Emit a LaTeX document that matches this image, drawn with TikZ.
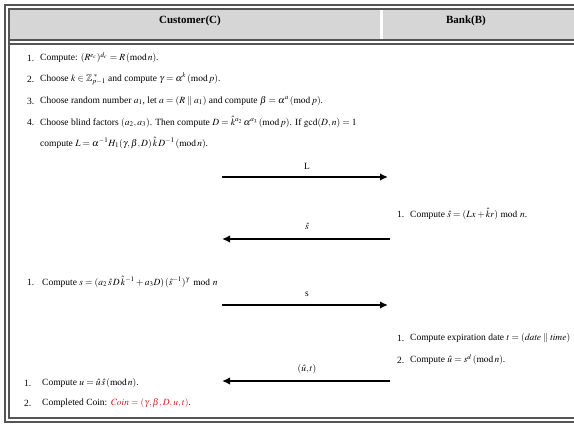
\documentclass[tikz,border=0pt]{standalone}
\usepackage{amssymb}
\usepackage{mathptmx}
\usepackage{fontspec}
\setmainfont{Liberation Serif}
\usetikzlibrary{arrows.meta}
\definecolor{hdr}{RGB}{214,214,214}
\definecolor{brd}{RGB}{85,85,85}
\definecolor{coin}{RGB}{200,30,30}
\tikzset{
  num/.style={anchor=west, inner sep=0pt, font=\fontsize{9.5}{11}\selectfont},
  txt/.style={anchor=west, inner sep=0pt, font=\fontsize{9.5}{11}\selectfont},
  lbl/.style={inner sep=0pt, font=\fontsize{9.5}{11}\selectfont},
  head/.style={inner sep=0pt, font=\fontsize{11}{13}\selectfont\bfseries},
  msg/.style={line width=1.9pt, -{Latex[length=8pt,width=7.5pt]}},
  border/.style={draw=brd, line width=1.1pt}
}
\begin{document}
\begin{tikzpicture}[x=1pt,y=-1pt]
\useasboundingbox (0,0) rectangle (574,425);
% header
\fill[hdr] (9,9) rectangle (574,40);
\fill[white] (380,9) rectangle (383,40);
% borders
\draw[border] (580,5) -- (5,5) -- (5,422) -- (580,422);
\draw[border] (580,9) -- (9,9) -- (9,418) -- (580,418);
\draw[border] (9,40) -- (580,40);
\draw[border] (9,44) -- (580,44);
\node[head] (hc) at (190,21) {Customer(C)};
\node[head] (hb) at (466,21) {Bank(B)};
% customer steps
\node[num] (n1) at (27,58) {1.};
\node[txt] (t1) at (40,58) {Compute: $(R^{e_c})^{d_c} = R\,(\mathrm{mod}\,n)$.};
\node[num] (n2) at (27,79) {2.};
\node[txt] (t2) at (40,79) {Choose $k \in \mathbb{Z}_{p-1}^{\;*}$ and compute $\gamma = \alpha^{k}\,(\mathrm{mod}\,p)$.};
\node[num] (n3) at (27,101) {3.};
\node[txt] (t3) at (40,101) {Choose random number $a_1$, let $a = (R\parallel a_1)$ and compute $\beta = \alpha^{a}\,(\mathrm{mod}\,p)$.};
\node[num] (n4) at (27,122) {4.};
\node[txt] (t4) at (40,122) {Choose blind factors $(a_2,a_3)$. Then compute $D = \hat{k}{}^{a_2}\,\alpha^{a_3}\,(\mathrm{mod}\,p)$. If $\gcd(D,n) = 1$};
\node[txt] (t4b) at (40,143) {compute $L = \alpha^{-1}H_1(\gamma,\beta,D)\,\hat{k}\,D^{-1}\,(\mathrm{mod}\,n)$.};
% message L
\coordinate (a1s) at (222,177);
\coordinate (a1e) at (388,177);
\draw[msg] (a1s) -- (a1e);
\node[lbl] (l1) at (307,166) {L};
% bank step
\node[num] (b1n) at (397,214) {1.};
\node[txt] (b1t) at (410,214) {Compute $\hat{s} = (Lx + \hat{k}r)\bmod n$.};
% message s-hat
\coordinate (a2s) at (390,239);
\coordinate (a2e) at (222,239);
\draw[msg] (a2s) -- (a2e);
\node[lbl] (l2) at (307,226) {$\hat{s}$};
% customer compute s
\node[num] (c5n) at (27,282) {1.};
\node[txt] (c5t) at (42,282) {Compute $s = (a_2\,\hat{s}\,D\,\hat{k}{}^{-1} + a_3D)\,(\hat{s}{}^{-1})^{\gamma}\,\bmod n$};
% message s
\coordinate (a3s) at (222,305);
\coordinate (a3e) at (388,305);
\draw[msg] (a3s) -- (a3e);
\node[lbl] (l3) at (307,294) {s};
% bank steps
\node[num] (b2n) at (397,338) {1.};
\node[txt] (b2t) at (410,338) {Compute expiration date $t = (\mathit{date}\parallel \mathit{time})$};
\node[num] (b3n) at (397,360) {2.};
\node[txt] (b3t) at (410,360) {Compute $\hat{u} = s^{d}\,(\mathrm{mod}\,n)$.};
% message (u,t)
\coordinate (a4s) at (390,381);
\coordinate (a4e) at (222,381);
\draw[msg] (a4s) -- (a4e);
\node[lbl] (l4) at (307,369) {$(\hat{u},t)$};
% final customer
\node[num] (c6n) at (24,383) {1.};
\node[txt] (c6t) at (42,383) {Compute $u = \hat{u}\,\hat{s}\,(\mathrm{mod}\,n)$.};
\node[num] (c7n) at (24,403) {2.};
\node[txt] (c7t) at (42,403) {Completed Coin: \textcolor{coin}{$\mathit{Coin} = (\gamma,\beta,D,u,t)$}.};
\end{tikzpicture}
\end{document}
